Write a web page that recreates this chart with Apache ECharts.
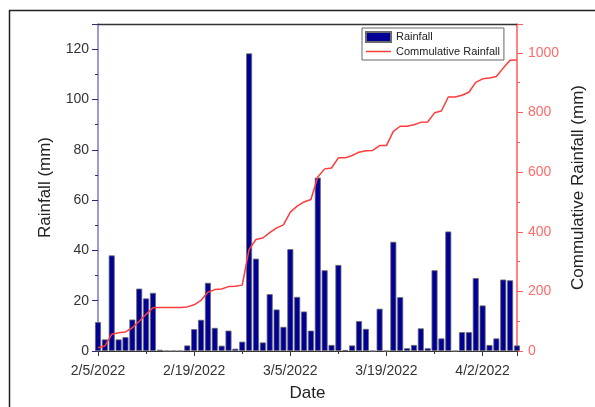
<!DOCTYPE html>
<html>
<head>
<meta charset="utf-8">
<script src="https://cdn.jsdelivr.net/npm/echarts@6/dist/echarts.min.js"></script>
<style>
html,body{margin:0;padding:0;background:#fff;}
#c{width:595px;height:407px;}
</style>
</head>
<body>
<div id="c"></div>
<script>
// Day offsets from 2/5/2022
const dayOffsets = [0,1,2,3,4,5,6,7,8,9,10,11,12,13,14,15,16,17,18,19,20,21,22,23,24,25,26,27,28,29,30,
  31,32,33,34,35,36,37,38,39,40,41,42,43,44,45,46,47,48,49,50,51,52,53,54,55,56,57,58,59,60,61];
const tickLabels = ['2/5/2022','2/19/2022','3/5/2022','3/19/2022','4/2/2022'];
const rainfall = [11.5,4.6,38,4.6,5.5,12.5,24.8,20.9,23.1,0.5,0,0,0,2.2,8.7,12.4,27.1,9.2,2.1,8.1,0.9,
  3.7,118.3,36.7,3.4,22.6,16.5,9.6,40.5,21.5,15.7,8.1,68.9,32.1,2.4,34.2,0.4,2.2,11.9,8.8,0,
  16.8,0,43.4,21.4,1.1,2.4,9.0,1.1,32.1,5.0,47.5,0,7.5,7.5,29,18.1,2.4,5.0,28.4,28.1,2.2];
const cumulative = [11,17,56,61,64,78,100,123,145,146,146,146,146,148,155,170,197,206,208,216,217,
  221,341,374,379,397,413,423,466,486,500,508,584,611,614,648,648,656,667,672,673,
  689,689,737,754,754,759,767,768,799,805,852,852,858,868,901,913,916,921,949,975,976];

const FONT = 'Liberation Sans, Arial, sans-serif';
const X_MAX = 61, Y_MAX = 130;
const chart = echarts.init(document.getElementById('c'), null, {renderer:'canvas'});
chart.setOption({
  backgroundColor:'#fff',
  animation:false,
  graphic:[{id:'frame', type:'rect', shape:{x:9.5,y:10.5,width:600,height:420}, style:{fill:'none', stroke:'#222', lineWidth:1.5}, z:100}],
  legend:{
    left:362, top:28, orient:'vertical', itemWidth:25, itemHeight:10, itemGap:3,
    padding:[3,4,3,3], borderColor:'#666', borderWidth:1, borderRadius:0, backgroundColor:'#fff',
    textStyle:{fontFamily:FONT, fontSize:11, color:'#222'},
    data:[{name:'Rainfall', icon:'rect'},
          {name:'Commulative Rainfall', icon:'path://M0,0 L100,0 L100,6 L0,6 Z', itemStyle:{color:'#ff3b3b'}}]
  },
  grid:{left:98, right:70, top:24, bottom:55},
  xAxis:[{
    type:'value', min:0, max:X_MAX, interval:14, position:'bottom',
    name:'Date', nameLocation:'middle', nameGap:34,
    nameTextStyle:{fontFamily:FONT, fontSize:17, color:'#222'},
    axisLine:{onZero:false, lineStyle:{color:'#333', width:1}},
    axisTick:{show:true, inside:false, length:5, lineStyle:{color:'#333'}},
    minorTick:{show:true, splitNumber:2, length:3, lineStyle:{color:'#333'}},
    splitLine:{show:false},
    axisLabel:{margin:13, fontFamily:FONT, fontSize:14, color:'#333',
      formatter:function(v){ return tickLabels[Math.round(v/14)] || ''; }, showMaxLabel:false}
  }],
  yAxis:[{
    type:'value', min:0, max:Y_MAX, interval:20, position:'left',
    name:'Rainfall (mm)', nameLocation:'middle', nameGap:44, nameRotate:90,
    nameTextStyle:{fontFamily:FONT, fontSize:17, color:'#222'},
    axisLine:{show:true, onZero:false, lineStyle:{color:'#7b7bc4', width:1.5}},
    axisTick:{show:true, length:6, lineStyle:{color:'#2b2b8f'}},
    minorTick:{show:true, splitNumber:2, length:3, lineStyle:{color:'#2b2b8f'}},
    splitLine:{show:false},
    axisLabel:{margin:9, fontFamily:FONT, fontSize:14, color:'#333', showMaxLabel:false}
  },{
    type:'value', min:0, max:1097, interval:200, position:'right',
    name:'Commulative Rainfall (mm)', nameLocation:'middle', nameGap:48, nameRotate:90,
    nameTextStyle:{fontFamily:FONT, fontSize:17, color:'#222'},
    axisLine:{show:true, onZero:false, lineStyle:{color:'#ff5a5a', width:1.5}},
    axisTick:{show:true, length:6, lineStyle:{color:'#ff5a5a'}},
    minorTick:{show:true, splitNumber:2, length:3, lineStyle:{color:'#ff5a5a'}},
    splitLine:{show:false},
    axisLabel:{margin:11, fontFamily:FONT, fontSize:14, color:'#ff6a6a', showMaxLabel:false,
      formatter:function(v){ return String(v); }}
  }],
  series:[{
    name:'Rainfall', type:'bar', xAxisIndex:0, yAxisIndex:0, barWidth:6,
    itemStyle:{color:'#000096', borderColor:'#6a6a6a', borderWidth:0.8},
    markLine:{silent:true, symbol:'none', animation:false, label:{show:false},
      lineStyle:{color:'#333', type:'solid', width:1.3},
      emphasis:{disabled:true},
      data:[{yAxis:Y_MAX}]},
    data:dayOffsets.map(function(d,i){return [d, rainfall[i]];})
  },{
    name:'Commulative Rainfall', type:'line', xAxisIndex:0, yAxisIndex:1,
    symbol:'none', smooth:false,
    lineStyle:{color:'#ff3b3b', width:1.5}, itemStyle:{color:'#ff3b3b'},
    data:dayOffsets.map(function(d,i){return [d, cumulative[i]];})
  }]
});
</script>
</body>
</html>
